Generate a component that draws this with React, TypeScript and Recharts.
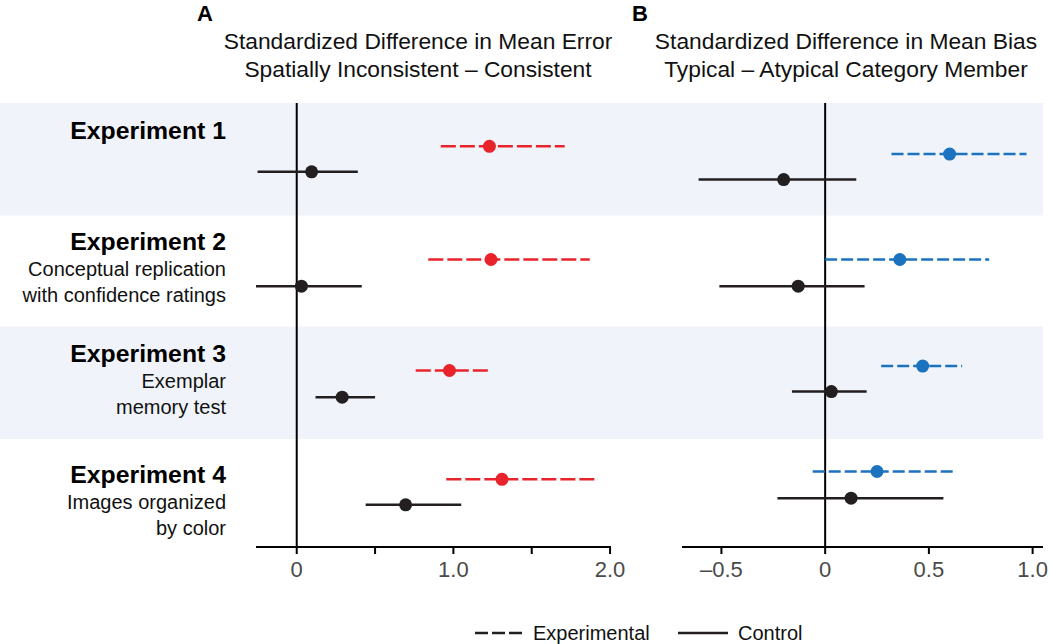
import React from "react";
import { ScatterChart, Scatter, XAxis, YAxis, ErrorBar, ReferenceLine } from "recharts";

const FONT = '"Liberation Sans", Arial, Helvetica, sans-serif';
const RED = "#e8232b";
const BLUE = "#1b72be";
const BLACK = "#231f20";
const BAND = "#f0f4fa";

// rows (top to bottom)
const experiments = ["Experiment 1", "Experiment 2", "Experiment 3", "Experiment 4"];
const subtitles = [
  [],
  ["Conceptual replication", "with confidence ratings"],
  ["Exemplar", "memory test"],
  ["Images organized", "by color"],
];

// panel A: mean error, spatially inconsistent - consistent
const aExpMean = [1.23, 1.24, 0.975, 1.31];
const aExpLo = [0.92, 0.84, 0.76, 0.955];
const aExpHi = [1.71, 1.87, 1.22, 1.92];
const aCtrlMean = [0.095, 0.03, 0.29, 0.695];
const aCtrlLo = [-0.25, -0.26, 0.12, 0.44];
const aCtrlHi = [0.39, 0.415, 0.5, 1.05];
const aExpRow = [0.39, 1.41, 2.41, 3.39];
const aCtrlRow = [0.62, 1.65, 2.65, 3.62];

// panel B: mean bias, typical - atypical
const bExpMean = [0.6, 0.36, 0.47, 0.25];
const bExpLo = [0.32, 0.0, 0.27, -0.06];
const bExpHi = [0.97, 0.79, 0.66, 0.63];
const bCtrlMean = [-0.2, -0.13, 0.03, 0.125];
const bCtrlLo = [-0.61, -0.51, -0.16, -0.23];
const bCtrlHi = [0.15, 0.19, 0.2, 0.57];
const bExpRow = [0.46, 1.41, 2.37, 3.32];
const bCtrlRow = [0.69, 1.65, 2.6, 3.56];

const aTicks = [0, 0.5, 1, 1.5, 2];
const aTickLabels = ["0", "", "1.0", "", "2.0"];
const bTicks = [-0.5, 0, 0.5, 1];
const bTickLabels = ["–0.5", "0", "0.5", "1.0"];

function build(mean: number[], lo: number[], hi: number[], row: number[]) {
  return mean.map((m, i) => ({ x: m, y: row[i], ci: [m - lo[i], hi[i] - m] }));
}

function Dot(props: any) {
  const { cx, cy, fill } = props;
  if (cx == null || cy == null) return null;
  return <circle cx={cx} cy={cy} r={6.5} fill={fill} />;
}

interface PanelProps {
  width: number;
  left: number;
  right: number;
  domain: [number, number];
  ticks: number[];
  labels: string[];
  exp: any[];
  ctrl: any[];
  color: string;
  dash: string;
}

function Panel({ width, left, right, domain, ticks, labels, exp, ctrl, color, dash }: PanelProps) {
  return (
    <ScatterChart width={width} height={644} margin={{ top: 103, right, bottom: 57, left }}>
      <XAxis
        type="number"
        dataKey="x"
        domain={domain}
        allowDataOverflow
        ticks={ticks}
        interval={0}
        height={40}
        tickSize={7}
        tickFormatter={(v: number) => labels[ticks.indexOf(v)] ?? ""}
        axisLine={{ stroke: "#000", strokeWidth: 2 }}
        tickLine={{ stroke: "#000", strokeWidth: 2 }}
        tick={{ fontSize: 22, fill: "#4a4a4a", fontFamily: FONT, dy: 5 }}
      />
      <YAxis type="number" dataKey="y" domain={[0, 4]} reversed hide width={0} allowDataOverflow />
      <ReferenceLine x={0} stroke="#000" strokeWidth={2} />
      <Scatter data={ctrl} fill={BLACK} shape={<Dot />} isAnimationActive={false}>
        <ErrorBar dataKey="ci" direction="x" width={0} stroke={BLACK} strokeWidth={2.5} />
      </Scatter>
      <Scatter data={exp} fill={color} shape={<Dot />} isAnimationActive={false}>
        <ErrorBar dataKey="ci" direction="x" width={0} stroke={color} strokeWidth={2.5} strokeDasharray={dash} />
      </Scatter>
    </ScatterChart>
  );
}

export default function App() {
  const rowTop = (i: number) => 103 + i * 111.8;
  const titleBase = [139, 250, 362, 483];
  return (
    <div style={{ position: "fixed", left: 0, top: 0, width: 1050, height: 644, background: "#fff", fontFamily: FONT }}>
      <svg width={1050} height={644} style={{ position: "absolute", left: 0, top: 0 }}>
        {[0, 2].map((i) => (
          <rect key={i} x={0} y={rowTop(i)} width={1043} height={112.5} fill={BAND} />
        ))}
        <text x={197} y={21} fontSize={22} fontWeight="bold" fill="#000">A</text>
        <text x={418} y={49} fontSize={22.8} textAnchor="middle" fill="#111">Standardized Difference in Mean Error</text>
        <text x={418} y={77} fontSize={22.8} textAnchor="middle" fill="#111">Spatially Inconsistent – Consistent</text>
        <text x={632} y={21} fontSize={22} fontWeight="bold" fill="#000">B</text>
        <text x={846} y={49} fontSize={22.8} textAnchor="middle" fill="#111">Standardized Difference in Mean Bias</text>
        <text x={846} y={77} fontSize={22.8} textAnchor="middle" fill="#111">Typical – Atypical Category Member</text>
        {experiments.map((name, i) => (
          <g key={name}>
            <text x={226} y={titleBase[i]} fontSize={24.8} fontWeight="bold" textAnchor="end" fill="#000">{name}</text>
            {subtitles[i].map((s, j) => (
              <text key={s} x={226} y={titleBase[i] + 26 + j * 26} fontSize={20} textAnchor="end" fill="#111">{s}</text>
            ))}
          </g>
        ))}
        <line x1={475} y1={633} x2={522} y2={633} stroke={BLACK} strokeWidth={2.5} strokeDasharray="13 4" />
        <text x={533} y={640} fontSize={20} fill="#111">Experimental</text>
        <line x1={678} y1={633} x2={728} y2={633} stroke={BLACK} strokeWidth={2.5} />
        <text x={738} y={640} fontSize={20} fill="#111">Control</text>
      </svg>
      <div style={{ position: "absolute", left: 0, top: 0 }}>
        <Panel
          width={640}
          left={256}
          right={29}
          domain={[-0.26, 2.006]}
          ticks={aTicks}
          labels={aTickLabels}
          exp={build(aExpMean, aExpLo, aExpHi, aExpRow)}
          ctrl={build(aCtrlMean, aCtrlLo, aCtrlHi, aCtrlRow)}
          color={RED}
          dash="15 4"
        />
      </div>
      <div style={{ position: "absolute", left: 640, top: 0 }}>
        <Panel
          width={410}
          left={42}
          right={7}
          domain={[-0.69, 1.05]}
          ticks={bTicks}
          labels={bTickLabels}
          exp={build(bExpMean, bExpLo, bExpHi, bExpRow)}
          ctrl={build(bCtrlMean, bCtrlLo, bCtrlHi, bCtrlRow)}
          color={BLUE}
          dash="12 4"
        />
      </div>
    </div>
  );
}
